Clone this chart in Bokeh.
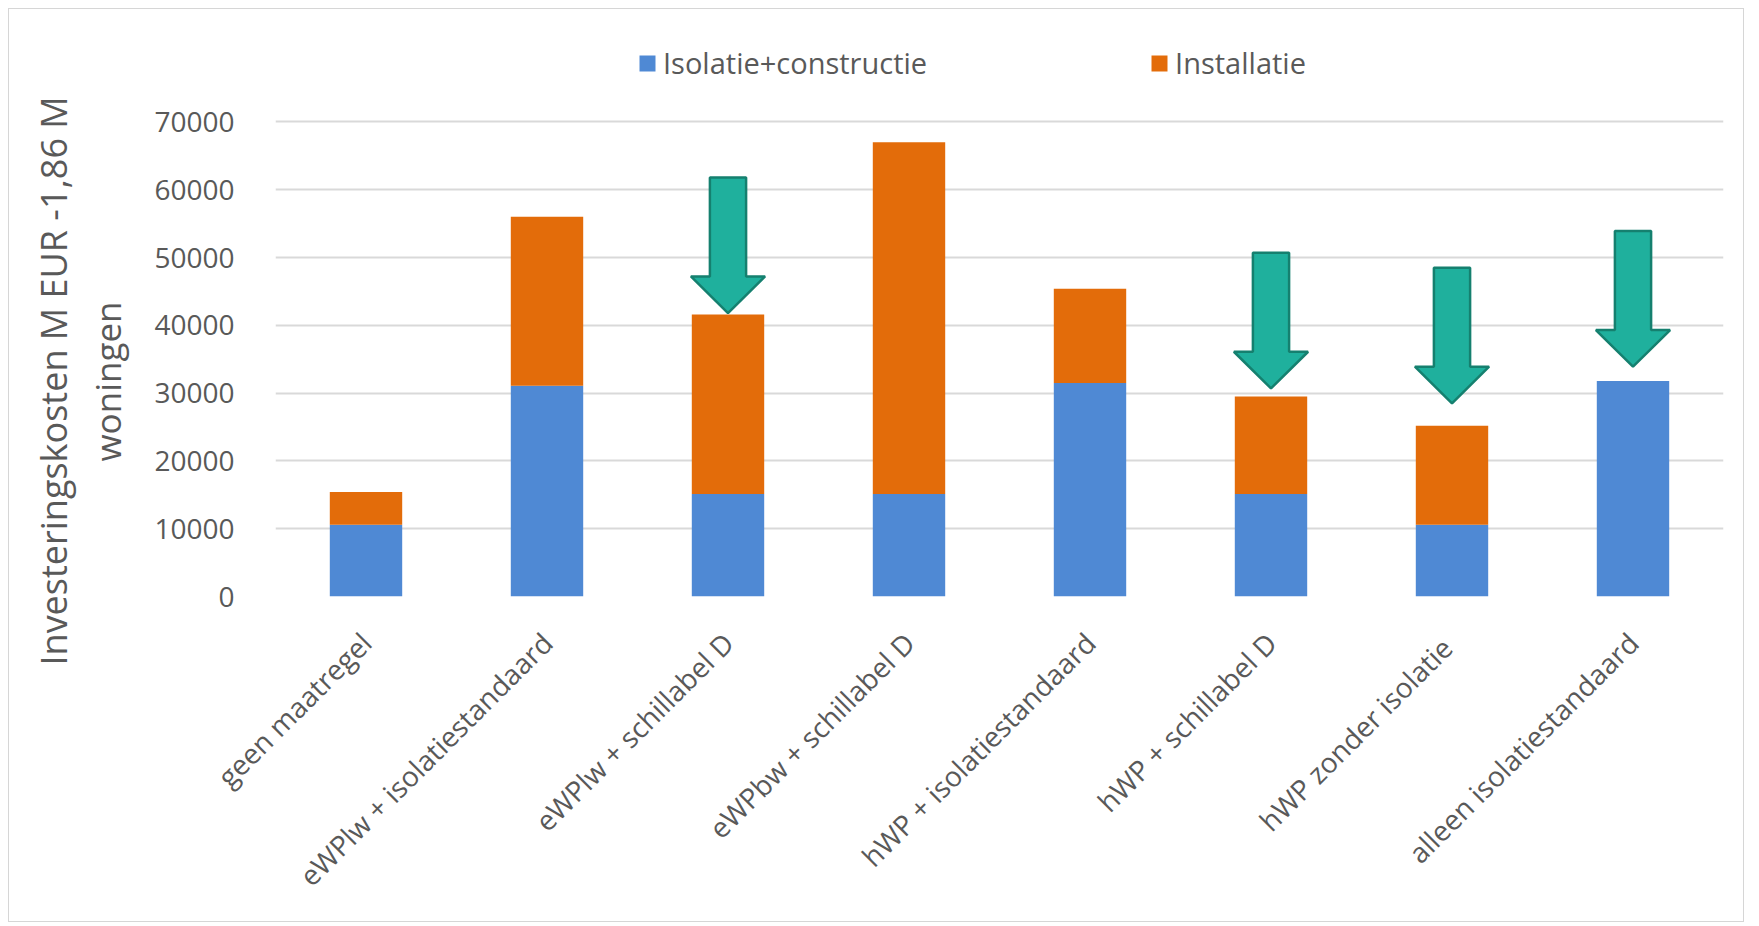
import numpy as np
from bokeh.plotting import figure
from bokeh.models import (Range1d, FixedTicker, CustomJSTickFormatter, Title,
                          ColumnDataSource, Legend, LegendItem, NumeralTickFormatter)
from bokeh.embed import file_html
from bokeh.resources import INLINE

# ---- data ----
categories = ["geen maatregel", "eWPlw + isolatiestandaard", "eWPlw + schillabel D",
              "eWPbw + schillabel D", "hWP + isolatiestandaard", "hWP + schillabel D",
              "hWP zonder  isolatie", "alleen isolatiestandaard"]
isolatie_constructie = [10600, 31100, 15100, 15100, 31500, 15100, 10600, 31800]
installatie = [4800, 24900, 26500, 51900, 13900, 14400, 14600, 0]
series_names = ["Isolatie+constructie", "Installatie"]
y_ticks = [0, 10000, 20000, 30000, 40000, 50000, 60000, 70000]
y_title_lines = ["Investeringskosten M EUR -1,86 M", "woningen"]
arrow_categories = ["eWPlw + schillabel D", "hWP + schillabel D",
                    "hWP zonder  isolatie", "alleen isolatiestandaard"]
arrow_tips = [41800, 30700, 28500, 33900]

# ---- style ----
BLUE = "#4f89d4"
ORANGE = "#e36c0a"
TEAL = "#1fb09d"
TEAL_DARK = "#15806f"
GREY = "#595959"
GRID = "#d9d9d9"
FONT = "Open Sans"

# frame geometry: frame is 566 px tall, top grid line (70000) sits 474.6 px above bottom,
# leaving room above the grid for the legend inside the frame
FRAME_H = 566
GRID_H = 474.6
y_top = max(y_ticks) * FRAME_H / GRID_H

x_pos = [i + 0.5 for i in range(len(categories))]
src = ColumnDataSource(dict(x=x_pos, iso=isolatie_constructie, inst=installatie))

p = figure(width=1736, height=914, x_range=Range1d(0, len(categories)),
           y_range=Range1d(0, y_top), output_backend="svg", toolbar_location=None,
           min_border_left=266, min_border_right=22,
           min_border_top=21, min_border_bottom=327)
p.styles = {"border": "1px solid #d6d6d6", "margin-left": "8px", "margin-top": "8px"}
p.outline_line_color = None
p.background_fill_color = "white"
p.border_fill_color = "white"

renderers = p.vbar_stack(["iso", "inst"], x="x", width=0.4, source=src,
                         color=[BLUE, ORANGE], line_color=None)

# arrows
sw, hw, hl, L = 0.1, 0.205, 5400, 20000
axs, ays = [], []
for cat, tip in zip(arrow_categories, arrow_tips):
    c = categories.index(cat) + 0.5
    axs.append([c - sw, c + sw, c + sw, c + hw, c, c - hw, c - sw])
    ays.append([tip + L, tip + L, tip + hl, tip + hl, tip, tip + hl, tip + hl])
p.patches(axs, ays, fill_color=TEAL, line_color=TEAL_DARK, line_width=2.5)

# axes
yaxis = p.yaxis[0]
xaxis = p.xaxis[0]
yaxis.ticker = FixedTicker(ticks=y_ticks)
yaxis.formatter = NumeralTickFormatter(format="0")
xaxis.ticker = FixedTicker(ticks=x_pos)
xaxis.formatter = CustomJSTickFormatter(args=dict(labels=categories),
                                        code="return labels[Math.round(tick - 0.5)];")
for ax in (yaxis, xaxis):
    ax.axis_line_color = None
    ax.major_tick_line_color = None
    ax.minor_tick_line_color = None
    ax.major_label_text_color = GREY
    ax.major_label_text_font = FONT
yaxis.major_label_text_font_size = "28px"
yaxis.major_label_standoff = 35

xaxis.major_label_text_font_size = "28px"
xaxis.major_label_orientation = np.pi / 4
xaxis.major_label_standoff = 35

# y-axis title as two left-side titles (closest first)
t2 = Title(text=y_title_lines[1], align="left", offset=135, standoff=42,
           text_font=FONT, text_font_size="35px", text_font_style="normal",
           text_color=GREY)
t1 = Title(text=y_title_lines[0], align="left", offset=-69, standoff=-34,
           text_font=FONT, text_font_size="36px", text_font_style="normal",
           text_color=GREY)
p.add_layout(t2, "left")
p.add_layout(t1, "left")

p.xgrid.visible = False
p.ygrid.ticker = FixedTicker(ticks=y_ticks)
p.ygrid.grid_line_color = GRID
p.ygrid.grid_line_width = 2

legend = Legend(items=[LegendItem(label=series_names[0], renderers=[renderers[0]]),
                       LegendItem(label=series_names[1], renderers=[renderers[1]])],
                orientation="horizontal", location=(362, 514), spacing=222,
                padding=0, margin=0, border_line_color=None, background_fill_alpha=0,
                glyph_width=20, glyph_height=20, label_standoff=6,
                label_text_font=FONT, label_text_font_size="29px",
                label_text_color=GREY)
p.add_layout(legend)

open("out.html", "w").write(file_html(p, INLINE))
